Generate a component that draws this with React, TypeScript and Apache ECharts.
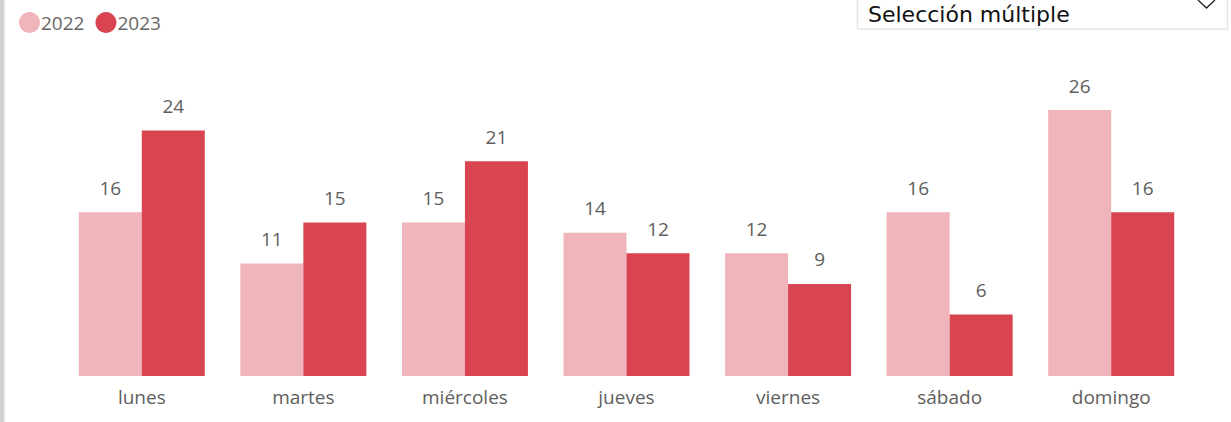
import React, { useEffect, useRef } from "react";
import * as echarts from "echarts";

const categories = ["lunes", "martes", "miércoles", "jueves", "viernes", "sábado", "domingo"];
const values2022 = [16, 11, 15, 14, 12, 16, 26];
const values2023 = [24, 15, 21, 12, 9, 6, 16];
const seriesNames = ["2022", "2023"];
const colors = ["#F0B5BA", "#D94451"];

export default function App() {
  const ref = useRef<HTMLDivElement>(null);
  useEffect(() => {
    if (!ref.current) return;
    const chart = echarts.init(ref.current, null, { renderer: "svg" });
    const font = "'Open Sans', 'Noto Sans', sans-serif";
    chart.setOption({
      animation: false,
      backgroundColor: "#ffffff",
      textStyle: { fontFamily: font },
      legend: {
        left: 14,
        top: 7,
        itemWidth: 21,
        itemHeight: 21,
        itemGap: 11,
        icon: "circle",
        data: seriesNames,
        textStyle: { fontSize: 19, color: "#666666", fontFamily: font, padding: [0, 0, 0, -4] },
      },
      grid: { left: 61, right: 39, top: 110, bottom: 46 },
      xAxis: {
        type: "category",
        data: categories,
        axisLine: { show: false },
        axisTick: { show: false },
        axisLabel: { fontSize: 19, color: "#605E5C", margin: 11, fontFamily: font },
      },
      yAxis: { type: "value", min: 0, max: 26, show: false, splitLine: { show: false } },
      series: [
        {
          name: seriesNames[0],
          type: "bar",
          data: values2022,
          barGap: "0%",
          barCategoryGap: "22%",
          itemStyle: { color: colors[0] },
          label: { show: true, position: "top", distance: 15, fontSize: 19, color: "#605E5C", fontFamily: font },
        },
        {
          name: seriesNames[1],
          type: "bar",
          data: values2023,
          barGap: "0%",
          barCategoryGap: "22%",
          itemStyle: { color: colors[1] },
          label: { show: true, position: "top", distance: 15, fontSize: 19, color: "#605E5C", fontFamily: font },
        },
      ],
      graphic: [
        { type: "rect", shape: { x: 0, y: 0, width: 4, height: 422 }, style: { fill: "#D2D2D2" } },
        { type: "rect", shape: { x: 4, y: 0, width: 2, height: 422 }, style: { fill: "#F3F3F3" } },
        {
          type: "rect",
          shape: { x: 857.5, y: -20, width: 370, height: 49 },
          style: { fill: "#ffffff", stroke: "#E6E6E6", lineWidth: 1.5 },
        },
        {
          type: "text",
          x: 868,
          y: 14,
          style: {
            text: "Selección múltiple",
            font: "22px 'Comic Sans MS', 'DejaVu Sans', sans-serif",
            fill: "#111111",
            textVerticalAlign: "middle",
          },
        },
        {
          type: "polyline",
          shape: { points: [[1198, 0], [1206.5, 8], [1215, 0]] },
          style: { stroke: "#222222", lineWidth: 1.3, fill: "none" },
        },
      ],
    });
    return () => chart.dispose();
  }, []);
  return <div ref={ref} style={{ width: 1231, height: 422, position: "absolute", left: 0, top: 0 }} />;
}
